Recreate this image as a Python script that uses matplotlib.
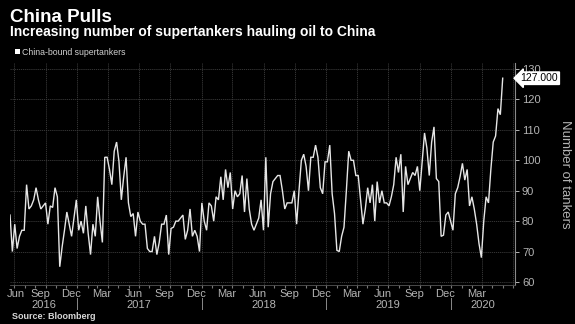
import matplotlib
matplotlib.use("Agg")
import matplotlib.pyplot as plt
import matplotlib.dates as mdates
import matplotlib.transforms as mtransforms
import pandas as pd

# ---- data (weekly count of China-bound supertankers) ----
tankers = [
    82, 70, 79, 71, 75, 77, 77, 92, 84, 85, 87, 91, 87, 84, 85, 86, 79, 85, 84.5, 91,
    88, 65, 71.5, 77, 83, 79, 75, 81, 87, 77, 80, 76, 85, 76, 69, 79, 75, 88, 80, 73,
    101, 101, 97, 92, 103, 106, 99.6, 87, 94.6, 101,
    86, 81.5, 82.5, 75, 83, 80, 79, 79, 71, 70, 70, 75, 69, 73, 79, 79, 82, 69, 77.6, 78,
    80, 80, 81, 82, 74, 77, 84, 75, 77, 75, 70, 86, 80, 77, 86, 85, 80, 88, 87, 94.6,
    87, 97, 91, 96, 84, 90, 88, 89, 95, 83, 94, 84, 79,
    77, 79, 81, 87, 77, 101, 78, 89, 93, 94, 95, 95, 90, 84, 86, 86, 86, 90, 79, 90,
    100, 102, 98, 90, 101, 101, 105, 101, 91, 89, 99.5, 99.5, 105, 89, 82.5, 70.4, 70, 75, 78, 90,
    103, 100, 100, 95, 95, 87, 79, 84, 91, 86, 92,
    80, 93, 86, 90, 86, 86, 85, 88, 92, 101, 96, 102, 83, 98, 92, 94, 96, 95, 98, 90,
    99.6, 109, 104, 95, 106, 111, 94, 93, 75, 75.4, 82, 83, 80, 77, 89, 91, 94.6, 99, 93.5, 97,
    85, 88, 84, 79, 72.6, 68, 80, 88, 86, 97, 106, 108, 117, 115, 127,
]
first_date = "2016-06-19"
last_date = "2020-05-31"
dates = pd.date_range(first_date, last_date, periods=len(tankers))

y_ticks = [60, 70, 80, 90, 100, 110, 120, 130]
month_labels = ["Jun", "Sep", "Dec", "Mar", "Jun", "Sep", "Dec", "Mar", "Jun",
                "Sep", "Dec", "Mar", "Jun", "Sep", "Dec", "Mar"]
month_label_dates = ["2016-07-05", "2016-09-15", "2016-12-15", "2017-03-15", "2017-06-15",
                     "2017-09-15", "2017-12-15", "2018-03-15", "2018-06-15", "2018-09-15",
                     "2018-12-15", "2019-03-15", "2019-06-15", "2019-09-15", "2019-12-15",
                     "2020-03-15"]
years = ["2016", "2017", "2018", "2019", "2020"]
year_label_dates = ["2016-09-25", "2017-07-01", "2018-07-01", "2019-07-01", "2020-04-04"]
year_breaks = ["2017-01-01", "2018-01-01", "2019-01-01", "2020-01-01"]
x_end = "2020-07-06"

title = "China Pulls"
subtitle = "Increasing number of supertankers hauling oil to China"
legend_label = "China-bound supertankers"
y_label = "Number of tankers"
source = "Source: Bloomberg"
last_value_label = "127.000"

# ---- styling ----
plt.rcParams["font.family"] = ["Liberation Sans", "DejaVu Sans"]
BG = "black"
GRID = "#3c3c3c"
TXT = "#b4b4b4"

W, H = 575, 324
fig = plt.figure(figsize=(W / 100, H / 100), dpi=100, facecolor=BG)
ax = fig.add_axes([10 / W, 1 - 285 / H, (515 - 10) / W, (285 - 63) / H], facecolor=BG)

ax.plot(dates, tankers, color="#e6e6e6", lw=1.0, solid_joinstyle="miter")

ax.set_xlim(pd.Timestamp(first_date), pd.Timestamp(x_end))
ax.set_ylim(59, 132)

# y axis on right
ax.yaxis.tick_right()
ax.yaxis.set_label_position("right")
ax.set_yticks(y_ticks)
ax.set_yticklabels([str(v) for v in y_ticks])
ax.tick_params(axis="y", colors=TXT, labelsize=8, length=3, width=0.7, pad=2,
               direction="out")
ax.set_ylabel(y_label, rotation=270, color=TXT, fontsize=9.5, labelpad=22)

# x axis: month labels (major, no tick), monthly minor ticks
ax.set_xticks([pd.Timestamp(d) for d in month_label_dates])
ax.set_xticklabels(month_labels)
ax.tick_params(axis="x", which="major", length=0, colors=TXT, labelsize=8, pad=3)
ax.xaxis.set_minor_locator(mdates.MonthLocator(bymonthday=1))
ax.tick_params(axis="x", which="minor", length=2, width=0.8, colors="#777777", direction="out")

# grid: quarterly vertical, every 10 horizontal
for q in pd.date_range("2016-07-01", "2020-07-01", freq="QS-JAN"):
    ax.axvline(q, color=GRID, lw=0.6, ls=(0, (1.5, 1)), zorder=0)
for v in y_ticks:
    ax.axhline(v, color=GRID, lw=0.6, ls=(0, (1.5, 1)), zorder=0)

for s in ["top", "left"]:
    ax.spines[s].set_visible(False)
ax.spines["right"].set_color("#8a8a8a")
ax.spines["right"].set_linewidth(0.8)
ax.spines["bottom"].set_color("#555555")
ax.spines["bottom"].set_linewidth(0.6)

# year labels and separators
trans = mtransforms.blended_transform_factory(ax.transData, ax.transAxes)
for yl, yd in zip(years, year_label_dates):
    ax.text(pd.Timestamp(yd), -0.088, yl, transform=trans, ha="center", va="center",
            color=TXT, fontsize=8, clip_on=False)
for yb in year_breaks:
    ax.plot([pd.Timestamp(yb)] * 2, [-0.06, -0.11], transform=trans, color="#8a8a8a",
            lw=0.7, clip_on=False)

# last value tag
trans_y = mtransforms.blended_transform_factory(ax.transAxes, ax.transData)
ax.annotate(last_value_label, xy=(1.0, tankers[-1]), xycoords=trans_y,
            xytext=(4, 0), textcoords="offset points", ha="left", va="center",
            fontsize=7.5, color="black", annotation_clip=False, zorder=5,
            bbox=dict(boxstyle="larrow,pad=0.12", fc="white", ec="white"))

# titles, legend, source
fig.text(10 / W, 1 - 22 / H, title, color="white", fontsize=13.5, fontweight="bold",
         va="baseline")
fig.text(10 / W, 1 - 36 / H, subtitle, color="white", fontsize=10, fontweight="bold",
         va="baseline")
fig.patches.append(plt.Rectangle((15 / W, 1 - 54 / H), 5 / W, 5 / H, transform=fig.transFigure,
                                 fc="white", ec="none"))
fig.text(22 / W, 1 - 55 / H, legend_label, color="#d0d0d0", fontsize=6.3, va="baseline")
fig.text(12 / W, 1 - 319 / H, source, color="#d8d8d8", fontsize=6.5, fontweight="bold",
         va="baseline")

fig.savefig("out.png", dpi=100, facecolor=BG)
